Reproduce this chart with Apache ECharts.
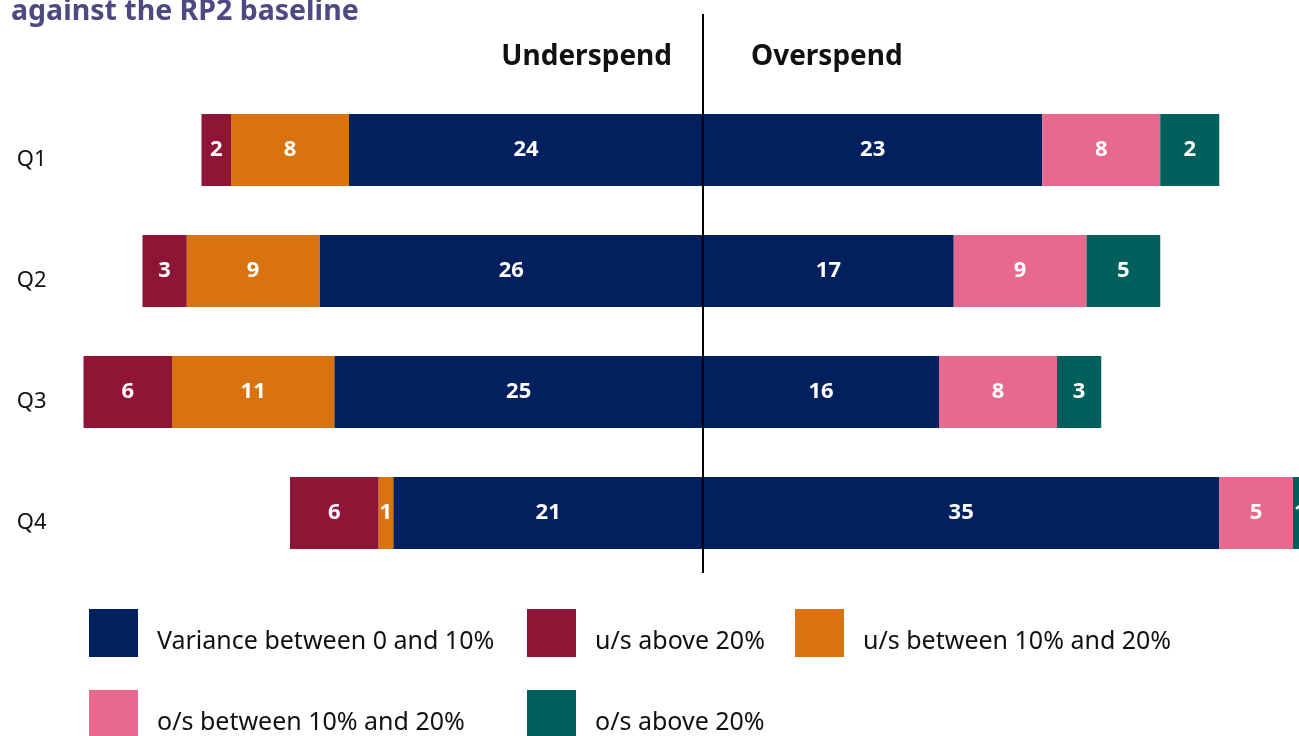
<!DOCTYPE html>
<html>
<head>
<meta charset="utf-8">
<script src="https://cdn.jsdelivr.net/npm/echarts@6/dist/echarts.min.js"></script>
<style>
  html, body { margin: 0; padding: 0; background: #fff; }
  #main { width: 1299px; height: 736px; }
</style>
</head>
<body>
<div id="main"></div>
<script>
// 数据
var quarters = ['Q1', 'Q2', 'Q3', 'Q4'];
var underVariance = [24, 26, 25, 21];   // u/s 0-10%
var underMid = [8, 9, 11, 1];           // u/s 10-20%
var underHigh = [2, 3, 6, 6];           // u/s > 20%
var overVariance = [23, 17, 16, 35];    // o/s 0-10%
var overMid = [8, 9, 8, 5];             // o/s 10-20%
var overHigh = [4, 5, 3, 1];            // o/s > 20% (bar length)
var overHighLabels = ['2', '5', '3', '1']; // printed labels

var FONT = 'Noto Sans';
var colors = {
    variance: '#02205e',
    usHigh: '#8e1535',
    usMid: '#d9730f',
    osMid: '#e7698d',
    osHigh: '#02605c'
};

function neg(arr) {
    return arr.map(function (v) { return -v; });
}

function barSeries(name, data, color, labels) {
    return {
        name: name,
        type: 'bar',
        stack: 'all',
        barWidth: 72,
        data: data,
        itemStyle: { color: color },
        label: {
            show: true,
            position: 'inside',
            color: '#fff',
            fontFamily: FONT,
            fontWeight: 'bold',
            fontSize: 22,
            formatter: function (p) {
                return labels ? labels[p.dataIndex] : Math.abs(p.value);
            }
        }
    };
}

function legendAt(name, left, top) {
    return {
        data: [name],
        left: left,
        top: top,
        padding: 0,
        icon: 'rect',
        itemWidth: 49,
        itemHeight: 48,
        selectedMode: false,
        // 文字比色块略低
        formatter: function (n) { return '\n' + n; },
        textStyle: {
            fontFamily: FONT,
            fontSize: 25,
            lineHeight: 18,
            color: '#111',
            padding: [0, 0, 0, 14]
        }
    };
}

var myChart = echarts.init(document.getElementById('main'));

myChart.setOption({
    animation: false,
    title: {
        text: 'against the RP2 baseline',
        left: 6,
        top: -8,
        textStyle: {
            fontFamily: FONT,
            fontWeight: 'bold',
            fontSize: 28.5,
            color: '#4d4a82'
        }
    },
    legend: [
        legendAt('Variance between 0 and 10%', 89, 609),
        legendAt('u/s above 20%', 527, 609),
        legendAt('u/s between 10% and 20%', 795, 609),
        legendAt('o/s between 10% and 20%', 89, 690),
        legendAt('o/s above 20%', 527, 690)
    ],
    grid: {
        left: 83.5,
        top: 89.5,
        width: 1239,
        height: 484,
        outerBoundsMode: 'none'
    },
    xAxis: {
        type: 'value',
        min: -42,
        max: 42,
        show: false
    },
    yAxis: {
        type: 'category',
        data: quarters,
        inverse: true,
        axisLine: { show: false },
        axisTick: { show: false },
        axisLabel: {
            margin: 37,
            fontFamily: FONT,
            fontSize: 22,
            lineHeight: 20,
            verticalAlign: 'top',
            color: '#111'
        }
    },
    series: [
        barSeries('Variance between 0 and 10%', neg(underVariance), colors.variance),
        barSeries('u/s between 10% and 20%', neg(underMid), colors.usMid),
        barSeries('u/s above 20%', neg(underHigh), colors.usHigh),
        barSeries('Variance between 0 and 10%', overVariance, colors.variance),
        barSeries('o/s between 10% and 20%', overMid, colors.osMid),
        barSeries('o/s above 20%', overHigh, colors.osHigh, overHighLabels)
    ]
});

// 中线和标题 (位置由坐标轴换算)
var zeroX = myChart.convertToPixel({ xAxisIndex: 0 }, 0);
myChart.setOption({
    graphic: [
        {
            type: 'line',
            shape: { x1: zeroX, y1: 14, x2: zeroX, y2: 573 },
            style: { stroke: '#000', lineWidth: 2 },
            z: 10
        },
        {
            type: 'text',
            x: zeroX - 31,
            y: 57,
            style: {
                text: 'Underspend',
                align: 'right',
                verticalAlign: 'middle',
                fontFamily: FONT,
                fontWeight: 'bold',
                fontSize: 28,
                fill: '#111'
            }
        },
        {
            type: 'text',
            x: zeroX + 48,
            y: 57,
            style: {
                text: 'Overspend',
                align: 'left',
                verticalAlign: 'middle',
                fontFamily: FONT,
                fontWeight: 'bold',
                fontSize: 28,
                fill: '#111'
            }
        }
    ]
});
</script>
</body>
</html>
